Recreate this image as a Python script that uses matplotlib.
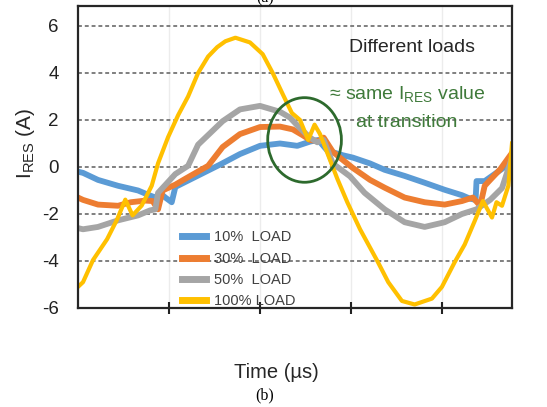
import matplotlib
matplotlib.use("Agg")
import matplotlib.pyplot as plt
from matplotlib.patches import Ellipse

plt.rcParams['font.family'] = ['Liberation Sans', 'DejaVu Sans']

# ---- data (time in tick units, current in A) ----
t_10 = [0.0, 0.055, 0.22, 0.44, 0.66, 0.77, 0.85, 0.90, 0.96, 1.03, 1.07, 1.25, 1.56, 1.78,
        2.0, 2.22, 2.41, 2.55, 2.64, 2.74, 2.91, 3.02, 3.21, 3.37, 3.59, 3.81, 4.03, 4.22,
        4.31, 4.37, 4.38, 4.47, 4.58, 4.69, 4.77]
i_10 = [-0.2, -0.25, -0.55, -0.8, -1.0, -1.18, -1.3, -1.1, -1.3, -1.5, -0.85, -0.5, 0.1, 0.55,
        0.9, 1.0, 0.9, 1.08, 1.15, 0.7, 0.5, 0.4, 0.15, -0.12, -0.38, -0.67, -0.97, -1.2,
        -1.35, -1.4, -0.6, -0.6, -0.3, 0.0, 0.15]

t_30 = [0.0, 0.055, 0.22, 0.44, 0.58, 0.74, 0.82, 0.88, 0.93, 1.07, 1.18, 1.43, 1.59, 1.78,
        2.0, 2.22, 2.36, 2.47, 2.55, 2.64, 2.70, 2.80, 2.91, 3.02, 3.21, 3.37, 3.59, 3.81,
        4.03, 4.22, 4.34, 4.42, 4.47, 4.53, 4.64, 4.77]
i_30 = [-1.3, -1.4, -1.6, -1.65, -1.5, -1.43, -1.45, -1.8, -1.0, -0.75, -0.5, 0.05, 0.85, 1.4,
        1.7, 1.72, 1.6, 1.35, 1.15, 1.1, 1.25, 0.65, 0.3, -0.04, -0.55, -0.88, -1.3, -1.5,
        -1.6, -1.45, -1.3, -1.65, -0.8, -0.55, -0.1, 0.6]

t_50 = [0.0, 0.055, 0.22, 0.44, 0.66, 0.79, 0.85, 0.88, 1.07, 1.21, 1.32, 1.59, 1.78, 2.0,
        2.22, 2.33, 2.44, 2.55, 2.63, 2.70, 2.80, 2.99, 3.15, 3.37, 3.59, 3.81, 4.03, 4.22,
        4.38, 4.53, 4.66, 4.77]
i_50 = [-2.6, -2.65, -2.55, -2.27, -2.06, -1.85, -1.8, -1.1, -0.3, 0.05, 0.95, 1.95, 2.45, 2.6,
        2.35, 2.1, 1.65, 1.25, 1.05, 1.15, 0.15, -0.4, -1.1, -1.8, -2.35, -2.55, -2.35, -2.0,
        -1.8, -1.4, -0.9, 0.4]

t_100 = [0.0, 0.055, 0.165, 0.32, 0.43, 0.52, 0.60, 0.70, 0.81, 0.88, 0.99, 1.10, 1.21, 1.32,
         1.43, 1.53, 1.62, 1.73, 1.89, 2.03, 2.14, 2.25, 2.35, 2.44, 2.53, 2.60, 2.66, 2.74,
         2.85, 2.96, 3.10, 3.29, 3.41, 3.56, 3.70, 3.89, 4.0, 4.14, 4.25, 4.36, 4.45, 4.55,
         4.60, 4.66, 4.73, 4.77]
i_100 = [-5.1, -4.9, -3.96, -3.07, -2.23, -1.39, -2.06, -1.64, -0.8, 0.16, 1.27, 2.2, 3.0, 4.0,
         4.7, 5.1, 5.35, 5.5, 5.3, 4.8, 4.0, 3.1, 2.3, 2.0, 1.15, 1.8, 1.4, 0.6,
         -0.5, -1.5, -2.65, -4.0, -4.9, -5.7, -5.85, -5.6, -5.1, -4.05, -3.3, -2.3, -1.45, -2.15,
         -1.5, -1.65, -0.8, 1.0]

labels = ["10%  LOAD", "30%  LOAD", "50%  LOAD", "100% LOAD"]
colors = ["#5b9bd5", "#ed7d31", "#a5a5a5", "#ffc000"]
yticks = [-6, -4, -2, 0, 2, 4, 6]
xticks = [1, 2, 3, 4]

# ---- figure ----
fig = plt.figure(figsize=(5.47, 4.07), dpi=100)
ax = fig.add_axes([78/547, 1 - 308/407, 434/547, 302/407])

series = [(t_10, i_10), (t_30, i_30), (t_50, i_50), (t_100, i_100)]
widths = [4.2, 4.2, 4.2, 3.0]
for (t, i), lab, c, w in zip(series, labels, colors, widths):
    ax.plot(t, i, color=c, lw=w, label=lab, solid_joinstyle='round')

ax.set_xlim(0, 4.77)
ax.set_ylim(-6, 6.85)
ax.set_yticks(yticks)
ax.set_yticklabels([str(v) for v in yticks], fontsize=13.5, color='#222222')
ax.set_xticks(xticks)
ax.set_xticklabels([])
ax.tick_params(axis='y', length=0, pad=14)
ax.tick_params(axis='x', direction='inout', length=9, width=1.5, color='#222222')

for v in yticks:
    ax.axhline(v, color='#7f7f7f', lw=1.4, ls=(0, (2.0, 1.5)), zorder=0.5)
for v in xticks:
    ax.axvline(v, color='#ececec', lw=1.0, zorder=0.4)

for s in ax.spines.values():
    s.set_linewidth(1.6)
    s.set_color('#262626')

ax.set_ylabel(r'I$_{\mathregular{RES}}$ (A)', fontsize=15, color='#262626')
ax.yaxis.set_label_coords(-0.095, 0.545)

leg = ax.legend(loc='lower left', bbox_to_anchor=(0.215, -0.035), frameon=False,
                fontsize=10.5, handlelength=1.7, handletextpad=0.5, labelspacing=0.5,
                borderpad=0.2)
for h in leg.get_lines():
    h.set_linewidth(5)
for txt in leg.get_texts():
    txt.set_color('#404040')

ax.text(0.77, 0.864, 'Different loads', transform=ax.transAxes, fontsize=14,
        color='#262626', ha='center', va='center')
ax.text(0.758, 0.705, r'≈ same I$_{\mathregular{RES}}$ value', transform=ax.transAxes,
        fontsize=14, color='#3f7a3a', ha='center', va='center',
        family=['Liberation Sans', 'DejaVu Sans'])
ax.text(0.757, 0.613, 'at transition', transform=ax.transAxes, fontsize=14,
        color='#3f7a3a', ha='center', va='center')

circle_center = (2.49, 1.15)
ax.add_patch(Ellipse(circle_center, 0.81, 3.6, fill=False, ec='#2d6a2d', lw=2.0, zorder=5))

fig.text(276/547, 1 - 372/407, 'Time (µs)', fontsize=14.5, color='#262626',
         ha='center', va='center')
fig.text(265/547, 1 - 395/407, '(b)', fontsize=11.5, family='Liberation Serif',
         ha='center', va='center')
fig.text(265/547, 1 - 2/407, '(a)', fontsize=11.5, family='Liberation Serif',
         ha='center', va='baseline')

fig.savefig('out.png', dpi=100)
